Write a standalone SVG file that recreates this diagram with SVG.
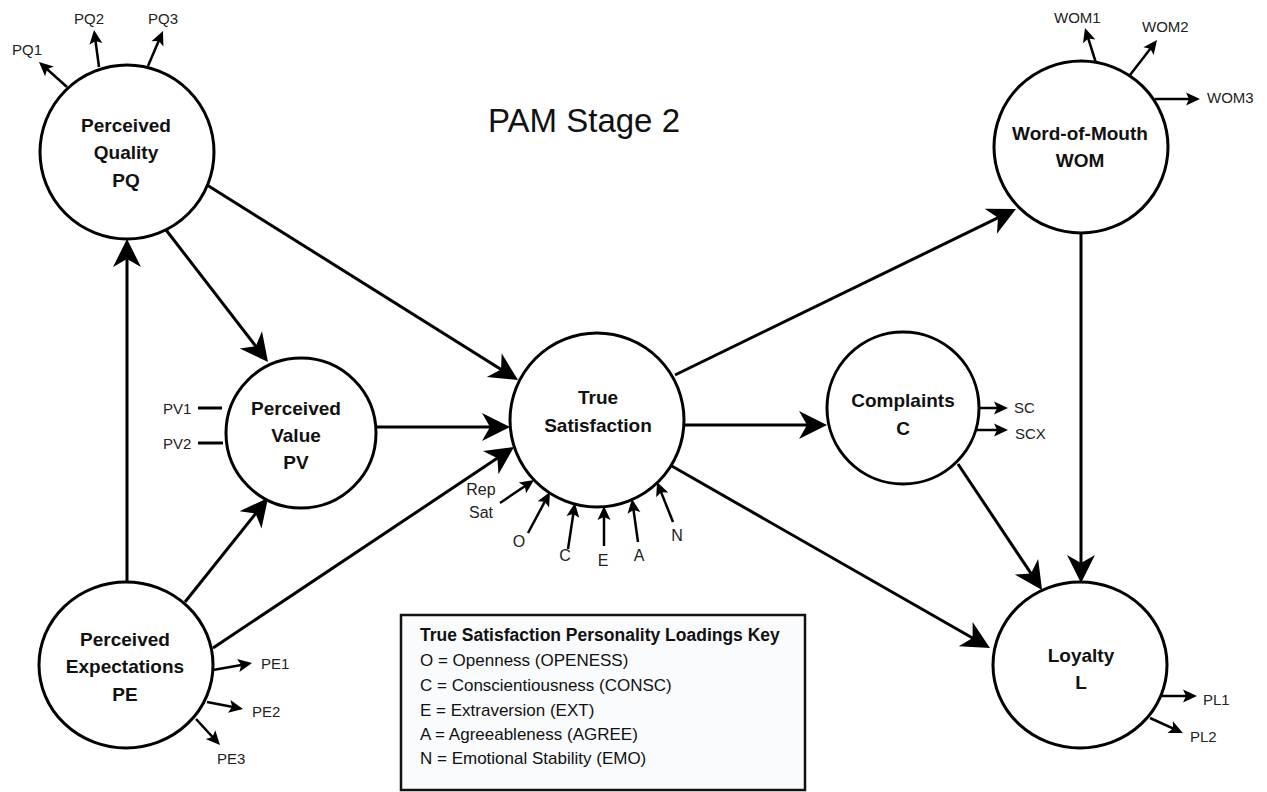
<svg xmlns="http://www.w3.org/2000/svg" width="1267" height="792" viewBox="0 0 1267 792">
<defs>
<marker id="big" markerUnits="userSpaceOnUse" markerWidth="40" markerHeight="40" refX="0" refY="0" orient="auto" overflow="visible">
<path d="M10,0 L-18,-14 L-10,0 L-18,14 Z" fill="#000"/>
</marker>
<marker id="small" markerUnits="userSpaceOnUse" markerWidth="20" markerHeight="20" refX="0" refY="0" orient="auto" overflow="visible">
<path d="M5,0 L-9,-6.5 L-6,0 L-9,6.5 Z" fill="#000"/>
</marker>
<style>
.node{fill:#fff;stroke:#000;stroke-width:3}
.lbl{font-family:"Liberation Sans",Arial,sans-serif;font-weight:bold;font-size:19px;fill:#111;text-anchor:middle}
.sm{font-family:"Liberation Sans",Arial,sans-serif;font-size:15px;fill:#222}
.md{font-family:"Liberation Sans",Arial,sans-serif;font-size:16px;fill:#222;text-anchor:middle}
.conn{stroke:#000;stroke-width:3;fill:none;marker-end:url(#big)}
.ind{stroke:#000;stroke-width:2.5;fill:none;marker-end:url(#small)}
.key{font-family:"Liberation Sans",Arial,sans-serif;font-size:17px;fill:#111}
</style>
</defs>
<rect width="1267" height="792" fill="#fff"/>

<text x="488" y="132" style="font-family:'Liberation Sans',Arial,sans-serif;font-size:33px;fill:#111">PAM Stage 2</text>

<g id="connectors">
<line class="conn" x1="163" y1="226" x2="261.9" y2="354.1"/>
<line class="conn" x1="207" y1="185" x2="509.5" y2="374.7"/>
<line class="conn" x1="377" y1="427" x2="500" y2="427"/>
<line class="conn" x1="213" y1="648" x2="505.7" y2="452.6"/>
<line class="conn" x1="185" y1="602" x2="261.8" y2="505.8"/>
<line class="conn" x1="127" y1="582" x2="127" y2="249"/>
<line class="conn" x1="675" y1="375" x2="1007" y2="213.4"/>
<line class="conn" x1="684" y1="425" x2="817" y2="425"/>
<line class="conn" x1="670" y1="465" x2="981.3" y2="643"/>
<line class="conn" x1="958" y1="464" x2="1036.5" y2="581.7"/>
<line class="conn" x1="1081" y1="233" x2="1081" y2="573"/>

<line class="ind" x1="67" y1="87" x2="42.7" y2="65.3"/>
<line class="ind" x1="99" y1="67" x2="94.7" y2="35"/>
<line class="ind" x1="148" y1="66" x2="161" y2="35.6"/>
<line class="ind" x1="1096" y1="63" x2="1086.5" y2="32.8"/>
<line class="ind" x1="1130" y1="75" x2="1154" y2="44"/>
<line class="ind" x1="1155" y1="99" x2="1195" y2="99"/>
<line class="ind" x1="979" y1="408" x2="1003" y2="408"/>
<line class="ind" x1="976" y1="430" x2="1003" y2="430"/>
<line class="ind" x1="1162" y1="696" x2="1192" y2="696"/>
<line class="ind" x1="1150" y1="718" x2="1178.4" y2="730.9"/>
<line class="ind" x1="213" y1="670" x2="247.1" y2="663.9"/>
<line class="ind" x1="207" y1="702" x2="238.1" y2="708"/>
<line class="ind" x1="196" y1="719" x2="216.6" y2="741.3"/>
<line class="ind" x1="500" y1="503" x2="529.9" y2="482.8"/>
<line class="ind" x1="528" y1="533" x2="547.6" y2="496.4"/>
<line class="ind" x1="568" y1="549" x2="574.2" y2="508"/>
<line class="ind" x1="604" y1="546" x2="604" y2="511"/>
<line class="ind" x1="638" y1="542" x2="632.7" y2="504"/>
<line class="ind" x1="673" y1="522" x2="658.9" y2="486.6"/>
<line x1="198" y1="408" x2="222" y2="408" stroke="#000" stroke-width="3"/>
<line x1="198" y1="443" x2="223" y2="443" stroke="#000" stroke-width="3"/>
</g>

<g id="PQ">
<circle class="node" cx="127" cy="152" r="87"/>
<text class="lbl" x="126" y="132">Perceived</text>
<text class="lbl" x="126" y="159">Quality</text>
<text class="lbl" x="126" y="187">PQ</text>
<text class="sm" x="12" y="55">PQ1</text>
<text class="sm" x="74" y="24">PQ2</text>
<text class="sm" x="148" y="24">PQ3</text>
</g>

<g id="PV">
<circle class="node" cx="301" cy="433" r="75"/>
<text class="lbl" x="296" y="415">Perceived</text>
<text class="lbl" x="296" y="442">Value</text>
<text class="lbl" x="296" y="469">PV</text>
<text class="sm" x="163" y="414">PV1</text>
<text class="sm" x="163" y="449">PV2</text>
</g>

<g id="TS">
<circle class="node" cx="597" cy="420" r="87"/>
<text class="lbl" x="598" y="404">True</text>
<text class="lbl" x="598" y="432">Satisfaction</text>
<text class="md" x="481" y="495">Rep</text>
<text class="md" x="481" y="518">Sat</text>
<text class="md" x="519" y="547">O</text>
<text class="md" x="565" y="561">C</text>
<text class="md" x="603" y="566">E</text>
<text class="md" x="639" y="561">A</text>
<text class="md" x="677" y="541">N</text>
</g>

<g id="PE">
<ellipse class="node" cx="126" cy="665" rx="87" ry="83"/>
<text class="lbl" x="125" y="646">Perceived</text>
<text class="lbl" x="125" y="673">Expectations</text>
<text class="lbl" x="125" y="701">PE</text>
<text class="sm" x="261" y="669">PE1</text>
<text class="sm" x="252" y="717">PE2</text>
<text class="sm" x="217" y="764">PE3</text>
</g>

<g id="WOM">
<ellipse class="node" cx="1081" cy="147" rx="87" ry="86"/>
<text class="lbl" x="1080" y="140">Word-of-Mouth</text>
<text class="lbl" x="1080" y="167">WOM</text>
<text class="sm" x="1054" y="23">WOM1</text>
<text class="sm" x="1142" y="32">WOM2</text>
<text class="sm" x="1207" y="103">WOM3</text>
</g>

<g id="C">
<circle class="node" cx="903" cy="408" r="76"/>
<text class="lbl" x="903" y="407">Complaints</text>
<text class="lbl" x="903" y="435">C</text>
<text class="sm" x="1014" y="413">SC</text>
<text class="sm" x="1015" y="439">SCX</text>
</g>

<g id="L">
<ellipse class="node" cx="1080" cy="665" rx="87" ry="83"/>
<text class="lbl" x="1081" y="662">Loyalty</text>
<text class="lbl" x="1081" y="689">L</text>
<text class="sm" x="1203" y="705">PL1</text>
<text class="sm" x="1190" y="742">PL2</text>
</g>

<g id="key">
<rect x="401" y="615" width="404" height="175" fill="#f9fbfd" stroke="#111" stroke-width="2.5"/>
<text class="key" x="420" y="641" style="font-weight:bold;font-size:17.5px">True Satisfaction Personality  Loadings Key</text>
<text class="key" x="420" y="666">O = Openness (OPENESS)</text>
<text class="key" x="420" y="691">C = Conscientiousness (CONSC)</text>
<text class="key" x="420" y="716">E = Extraversion (EXT)</text>
<text class="key" x="420" y="740">A = Agreeableness (AGREE)</text>
<text class="key" x="420" y="764">N = Emotional Stability (EMO)</text>
</g>
</svg>
